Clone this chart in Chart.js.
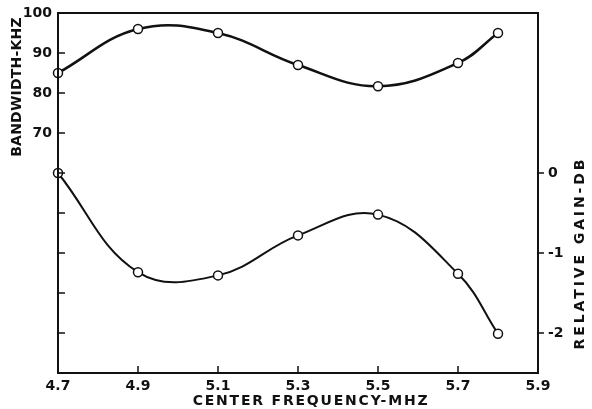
<!DOCTYPE html>
<html lang="en">
<head>
    <meta charset="UTF-8">
    <title>Bandwidth and Relative Gain vs Center Frequency</title>
    <style>
        body {
            margin: 0;
            background-color: #fff;
        }

        #chart-container {
            width: 592px;
            height: 409px;
        }
    </style>
</head>
<body>
    <div id="chart-container">
        <canvas id="chart"></canvas>
    </div>

    <script src="https://cdn.jsdelivr.net/npm/chart.js"></script>

    <script>
        // values
        const frequencies = [4.7, 4.9, 5.1, 5.3, 5.5, 5.7, 5.8];
        const bandwidth = [85, 96, 95, 87, 81.7, 87.5, 95];
        const relativeGain = [0, -1.24, -1.28, -0.78, -0.52, -1.26, -2.01];

        const xTicks = [4.7, 4.9, 5.1, 5.3, 5.5, 5.7, 5.9];
        const bwTicks = [20, 30, 40, 50, 60, 70, 80, 90, 100];
        const bwLabels = [70, 80, 90, 100];
        const gainTicks = [0, -1, -2];

        const FONT = '"DejaVu Sans", sans-serif';
        const INK = '#111';

        function title(ctx, text, x, y, spacing, rotate) {
            ctx.save();
            ctx.letterSpacing = spacing + 'px';
            ctx.translate(x, y);
            if (rotate) ctx.rotate(-Math.PI / 2);
            ctx.fillText(text, 0, 0);
            ctx.restore();
        }

        // short ticks pointing into the plot, box round the plot, axis titles
        const frame = {
            id: 'frame',
            afterDraw(chart) {
                const ctx = chart.ctx;
                const a = chart.chartArea;
                const x = chart.scales.x, y = chart.scales.y, y2 = chart.scales.y2;
                ctx.save();
                ctx.strokeStyle = INK;
                ctx.lineWidth = 2;
                ctx.strokeRect(a.left, a.top, a.right - a.left, a.bottom - a.top);

                ctx.lineWidth = 1.5;
                ctx.beginPath();
                xTicks.slice(1, -1).forEach(v => {
                    const px = x.getPixelForValue(v);
                    ctx.moveTo(px, a.bottom);
                    ctx.lineTo(px, a.bottom - 7);
                });
                bwTicks.slice(0, -1).forEach(v => {
                    const py = y.getPixelForValue(v);
                    ctx.moveTo(a.left, py);
                    ctx.lineTo(a.left + 7, py);
                });
                gainTicks.forEach(v => {
                    const py = y2.getPixelForValue(v);
                    ctx.moveTo(a.right, py);
                    ctx.lineTo(a.right + 6, py);
                });
                ctx.stroke();

                ctx.fillStyle = INK;
                ctx.font = '600 14px ' + FONT;
                ctx.textAlign = 'center';
                ctx.textBaseline = 'middle';
                title(ctx, 'CENTER FREQUENCY-MHZ', 311, 401, 1.8, false);
                title(ctx, 'BANDWIDTH-KHZ', 17, 87, 0.2, true);
                title(ctx, 'RELATIVE GAIN-DB', 580, 253, 2.9, true);
                ctx.restore();
            }
        };

        const pointStyle = {
            borderColor: INK,
            pointBackgroundColor: '#fff',
            pointBorderColor: INK,
            pointBorderWidth: 1.5,
            pointRadius: 4.5,
            fill: false,
            tension: 0.4,
            clip: false
        };

        const noGrid = { display: false, drawTicks: false, tickLength: 0 };
        const tickFont = { family: FONT, size: 14, weight: '600' };
        const noPad = s => { s.paddingTop = 0; s.paddingBottom = 0; };

        new Chart(document.getElementById('chart'), {
            type: 'line',
            data: {
                datasets: [
                    Object.assign({
                        label: 'Bandwidth',
                        data: frequencies.map((f, i) => ({ x: f, y: bandwidth[i] })),
                        yAxisID: 'y',
                        borderWidth: 2.5
                    }, pointStyle),
                    Object.assign({
                        label: 'Relative gain',
                        data: frequencies.map((f, i) => ({ x: f, y: relativeGain[i] })),
                        yAxisID: 'y2',
                        borderWidth: 2
                    }, pointStyle)
                ]
            },
            options: {
                responsive: true,
                maintainAspectRatio: false,
                animation: false,
                layout: { padding: { top: 13, left: 0, right: 0, bottom: 0 } },
                plugins: {
                    legend: { display: false },
                    tooltip: { enabled: false }
                },
                scales: {
                    x: {
                        type: 'linear',
                        min: 4.7,
                        max: 5.9,
                        afterBuildTicks: s => { s.ticks = xTicks.map(v => ({ value: v })); },
                        afterFit: s => { s.height = 36; s.paddingLeft = 0; s.paddingRight = 0; },
                        grid: noGrid,
                        border: { display: false },
                        ticks: {
                            color: INK,
                            padding: 5,
                            maxRotation: 0,
                            font: tickFont,
                            callback: v => v.toFixed(1)
                        }
                    },
                    y: {
                        position: 'left',
                        min: 10,
                        max: 100,
                        afterBuildTicks: s => { s.ticks = bwLabels.map(v => ({ value: v })); },
                        afterFit: s => { s.width = 58; noPad(s); },
                        grid: noGrid,
                        border: { display: false },
                        ticks: {
                            color: INK,
                            padding: 6,
                            font: tickFont
                        }
                    },
                    y2: {
                        position: 'right',
                        min: -2.5,
                        max: 2,
                        afterBuildTicks: s => { s.ticks = gainTicks.map(v => ({ value: v })); },
                        afterFit: s => { s.width = 54; noPad(s); },
                        grid: noGrid,
                        border: { display: false },
                        ticks: {
                            color: INK,
                            padding: 10,
                            font: tickFont,
                            callback: v => v === 0 ? '0' : String(v)
                        }
                    }
                }
            },
            plugins: [frame]
        });
    </script>
</body>
</html>
